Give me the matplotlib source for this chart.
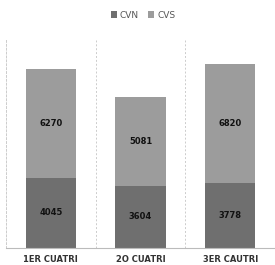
import matplotlib.pyplot as plt

# semester categories and values per series
categories = ["1ER CUATRI", "2O CUATRI", "3ER CAUTRI"]
cvn = [4045, 3604, 3778]
cvs = [6270, 5081, 6820]

fig = plt.figure(figsize=(2.75, 2.65), dpi=100)
ax = fig.add_axes([0.022, 0.064, 0.978, 0.785])

x = range(len(categories))
b1 = ax.bar(x, cvn, width=0.56, color="#6f6f6f", label="CVN")
b2 = ax.bar(x, cvs, width=0.56, bottom=cvn, color="#9c9c9c", label="CVS")

# value labels in the middle of each segment
for i in x:
    ax.text(i, cvn[i] / 2, str(cvn[i]), ha="center", va="center",
            fontsize=6, fontweight="bold", color="#111111")
    ax.text(i, cvn[i] + cvs[i] / 2, str(cvs[i]), ha="center", va="center",
            fontsize=6, fontweight="bold", color="#111111")

ax.set_xlim(-0.5, 2.5)
ax.set_ylim(0, 12000)
ax.set_yticks([])
ax.set_xticks(list(x))
ax.set_xticklabels(categories, fontsize=6, fontweight="bold", color="#333333")
ax.tick_params(axis="x", length=0, pad=5)

# dashed separators between categories
ax.set_xticks([0.5, 1.5], minor=True)
ax.tick_params(axis="x", which="minor", length=0)
ax.grid(axis="x", which="minor", color="#cccccc", linestyle=(0, (2, 2)), linewidth=0.7)
ax.set_axisbelow(True)

for s in ["top", "right"]:
    ax.spines[s].set_visible(False)
ax.spines["left"].set_color("#cccccc")
ax.spines["left"].set_linestyle((0, (2, 2)))
ax.spines["left"].set_linewidth(0.7)
ax.spines["bottom"].set_color("#bbbbbb")
ax.spines["bottom"].set_linewidth(0.8)

fig.legend(handles=[b1, b2], loc="center", bbox_to_anchor=(0.52, 0.943), ncol=2,
           frameon=False, fontsize=6.5, handlelength=0.7, handleheight=0.7,
           handletextpad=0.3, columnspacing=1.0, labelcolor="#555555")

fig.savefig("out.png", dpi=100)
